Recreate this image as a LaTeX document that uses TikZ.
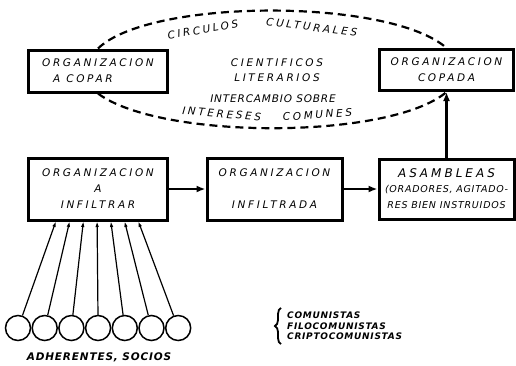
\documentclass[tikz,border=0pt]{standalone}
\usepackage{fontspec}
\newfontfamily\rotulo[LetterSpace=25]{DejaVu Sans}
\newfontfamily\rotulofino[LetterSpace=8]{DejaVu Sans}
\usetikzlibrary{arrows.meta,decorations.pathreplacing}

\tikzset{
  caja/.style={draw,line width=3bp,inner sep=0pt,align=center,
    font=\rotulo\itshape\fontsize{10.5bp}{16bp}\selectfont},
  curva/.style={inner sep=0pt,font=\rotulo\itshape\fontsize{10.5bp}{12bp}\selectfont},
  borde/.style={line width=2.2bp,dash pattern=on 8bp off 5bp},
  flecha/.style={line width=2.5bp,-{Latex[length=9bp,width=7bp]}},
  hilo/.style={line width=1.2bp,-{Latex[length=6bp,width=3.5bp]}},
  socio/.style={circle,draw,line width=1.5bp,minimum size=25bp,inner sep=0pt}
}
\newcommand\chica{\rotulofino\itshape\fontsize{9.5bp}{15bp}\selectfont}

\begin{document}
\begin{tikzpicture}[x=1bp,y=-1bp,text centered]
  \useasboundingbox (0,0) rectangle (516,365);

  % upper row
  \node (COPAR) at (98,71) [caja,minimum width=138bp,minimum height=42bp] {ORGANIZACION\\A COPAR\hspace*{30bp}};
  \node (COPADA) at (446.5,70) [caja,minimum width=134bp,minimum height=41bp] {ORGANIZACION\\COPADA};

  % lower row
  \node (INFILTRAR) at (98,189) [caja,minimum width=138bp,minimum height=62bp] {ORGANIZACION\\A\\INFILTRAR};
  \node (INFILTRADA) at (274.5,189) [caja,minimum width=135bp,minimum height=62bp] {ORGANIZACION\\[16bp]INFILTRADA};
  \node (ASAMBLEAS) at (446.5,189) [caja,minimum width=135bp,minimum height=60bp]
    {\fontsize{12bp}{14bp}\selectfont ASAMBLEAS\\[-1bp]\chica (ORADORES, AGITADO-\\\chica RES BIEN INSTRUIDOS};

  \draw[flecha] (INFILTRAR.east) -- (INFILTRADA.west);
  \draw[flecha] (INFILTRADA.east) -- (ASAMBLEAS.west);
  \draw[flecha] (ASAMBLEAS.north) -- (COPADA.south);

  % dashed ring
  \draw[borde] (COPAR.north) .. controls (150,-2) and (390,-2) .. (COPADA.north);
  \draw[borde] (COPAR.south) .. controls (160,140) and (390,140) .. (COPADA.south);

  \path (163,43) .. controls (230,23) and (300,23) .. (370,43)
    node (CIRC) [curva,pos=0.2,sloped,anchor=base] {CIRCULOS}
    node (CULT) [curva,pos=0.72,sloped,anchor=base] {CULTURALES};
  \path (178,112) .. controls (230,122) and (310,122) .. (360,114)
    node (INTER) [curva,pos=0.25,sloped,anchor=base] {INTERESES}
    node (COMUN) [curva,pos=0.75,sloped,anchor=base] {COMUNES};

  \node (CIENT) at (277,63) [curva] {CIENTIFICOS};
  \node (LITER) at (277,78) [curva] {LITERARIOS};
  \node (CAMBIO) at (273,99) [curva,font=\rotulofino\itshape\fontsize{10.5bp}{12bp}\selectfont] {INTERCAMBIO SOBRE};

  % members
  \foreach \i in {0,...,6} {
    \node (S\i) at ({18+26.7*\i},328) [socio] {};
    \coordinate (P\i) at ({56+13.7*\i},221);
    \draw[hilo] (S\i) -- (P\i);
  }
  \node (SOCIOS) at (99,357) [font=\rotulofino\bfseries\itshape\fontsize{10.5bp}{12bp}\selectfont] {ADHERENTES, SOCIOS};

  \node (LISTA) at (287,326) [anchor=west,align=left,inner sep=0pt,
    font=\rotulofino\bfseries\itshape\fontsize{9bp}{10.5bp}\selectfont] {COMUNISTAS\\FILOCOMUNISTAS\\CRIPTOCOMUNISTAS};
  \draw[line width=1.8bp,decorate,decoration={brace,amplitude=6bp}]
    ([xshift=-6bp,yshift=-4bp]LISTA.south west) -- ([xshift=-6bp,yshift=4bp]LISTA.north west);

\end{tikzpicture}
\end{document}
